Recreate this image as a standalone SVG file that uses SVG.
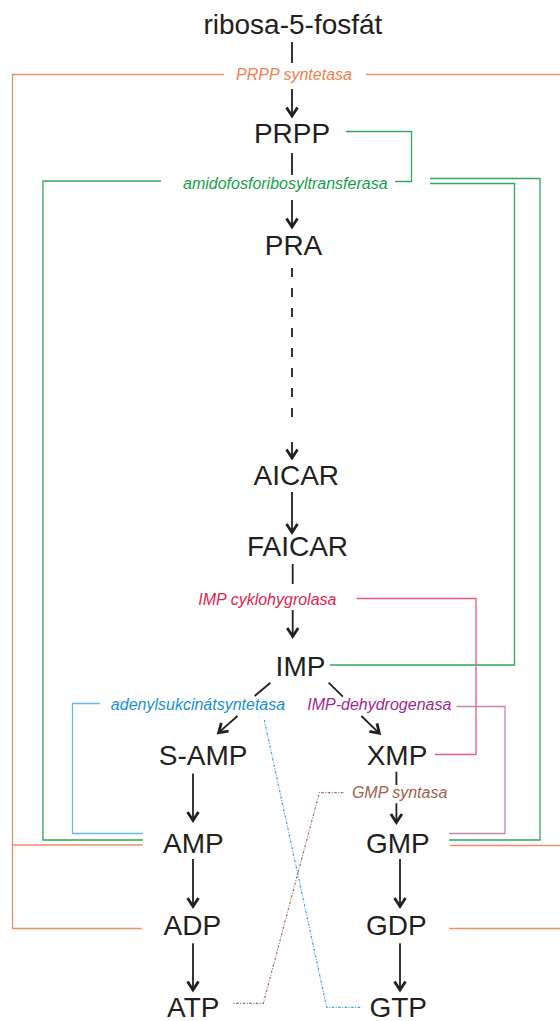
<svg xmlns="http://www.w3.org/2000/svg" width="560" height="1021" viewBox="0 0 560 1021">
  <style>
    .node { font-family: "Liberation Sans", Arial, sans-serif; font-size: 28px; fill: #231f20; text-anchor: middle; }
    .enz { font-family: "Liberation Sans", Arial, sans-serif; font-size: 16px; font-style: italic; text-anchor: middle; }
    .flow { fill: none; stroke: #231f20; stroke-width: 1.8; }
    .arrow { marker-end: url(#head); }
    .reg { fill: none; stroke-width: 1.3; }
    .orange { stroke: #f08c64; }
    .green { stroke: #2ea85e; }
    .red { stroke: #e65a7c; }
    .blue { stroke: #62bbe8; }
    .purple { stroke: #c288b6; }
    .blue-dot { fill: none; stroke: #3aa2e0; stroke-width: 1.2; stroke-dasharray: 2.5 1.5 1 1.5; }
    .brown-dot { fill: none; stroke: #a0705f; stroke-width: 1.2; stroke-dasharray: 2.5 1.5 1 1.5; }
  </style>
  <defs>
    <marker id="head" markerUnits="userSpaceOnUse" markerWidth="16" markerHeight="16" viewBox="-12 -8 16 16" refX="0" refY="0" orient="auto">
      <path d="M-8.5,-5.5 L0,0 L-8.5,5.5" fill="none" stroke="#231f20" stroke-width="2.8"/>
    </marker>
  </defs>

  <!-- regulation / feedback lines -->
  <g id="connectors">
    <!-- PRPP synthetase feedback -->
    <path class="reg orange" d="M224,74.5 H12.5 V928.5 H142"/>
    <path class="reg orange" d="M12.5,845 H142.5"/>
    <path class="reg orange" d="M366,74.5 H560"/>
    <path class="reg orange" d="M450,845.5 H560"/>
    <path class="reg orange" d="M449,928.5 H560"/>
    <!-- amidophosphoribosyltransferase -->
    <path class="reg green" d="M346,131.5 H411.5 V181.5 H395"/>
    <path class="reg green" d="M161,181 H43 V840 H143"/>
    <path class="reg green" d="M430,178.5 H540 V840 H449"/>
    <path class="reg green" d="M430,183.5 H514.5 V665 H330"/>
    <!-- IMP cyclohydrolase -->
    <path class="reg red" d="M356.5,598.5 H476 V754.5 H435"/>
    <!-- adenylosuccinate synthetase -->
    <path class="reg blue" d="M100,703.5 H72.5 V833.5 H143"/>
    <path class="blue-dot" d="M264.3,720 L326.7,1007.3 H360.7"/>
    <!-- IMP dehydrogenase -->
    <path class="reg purple" d="M456.5,706.5 H505 V833.5 H449"/>
    <!-- GMP synthetase -->
    <path class="brown-dot" d="M343.3,792.7 H319.3 L263.3,1003.3 H232"/>

    <!-- main pathway -->
    <path class="flow" d="M292,42 V63"/>
    <path class="flow arrow" d="M292,89 V116"/>
    <path class="flow" d="M292,153 V175"/>
    <path class="flow arrow" d="M292,200 V227"/>
    <path class="flow" d="M292,268 V422" stroke-dasharray="9 11" stroke-width="2.4"/>
    <path class="flow arrow" d="M292,442 V458"/>
    <path class="flow arrow" d="M292,492 V532.5"/>
    <path class="flow" d="M292.7,564 V584"/>
    <path class="flow arrow" d="M292.7,610 V636.5"/>
    <path class="flow" d="M270.4,682.7 L254.6,696"/>
    <path class="flow arrow" d="M237.5,716 L218.6,732.7"/>
    <path class="flow" d="M328.6,682.7 L342.9,696.7"/>
    <path class="flow arrow" d="M361.4,716 L379.3,733.3"/>
    <path class="flow arrow" d="M193,773.5 V820.5"/>
    <path class="flow" d="M396.4,771.7 V785"/>
    <path class="flow arrow" d="M396.4,803.3 V822.5"/>
    <path class="flow arrow" d="M193,859 V906.5"/>
    <path class="flow arrow" d="M400,859 V906.5"/>
    <path class="flow arrow" d="M193,943.3 V990"/>
    <path class="flow arrow" d="M400,943.3 V990"/>
  </g>

  <!-- metabolites -->
  <g id="ribose5p"><text class="node" x="292.9" y="34">ribosa-5-fosfát</text></g>
  <g id="prpp"><text class="node" x="292" y="143">PRPP</text></g>
  <g id="pra"><text class="node" x="293.5" y="255">PRA</text></g>
  <g id="aicar"><text class="node" x="296.3" y="485">AICAR</text></g>
  <g id="faicar"><text class="node" x="297.5" y="556">FAICAR</text></g>
  <g id="imp"><text class="node" x="300.5" y="676">IMP</text></g>
  <g id="samp"><text class="node" x="203.2" y="765">S-AMP</text></g>
  <g id="xmp"><text class="node" x="397" y="765">XMP</text></g>
  <g id="amp"><text class="node" x="193.3" y="853">AMP</text></g>
  <g id="gmp"><text class="node" x="397.8" y="853">GMP</text></g>
  <g id="adp"><text class="node" x="192.3" y="935">ADP</text></g>
  <g id="gdp"><text class="node" x="396.4" y="935">GDP</text></g>
  <g id="atp"><text class="node" x="193.3" y="1016.5">ATP</text></g>
  <g id="gtp"><text class="node" x="398.2" y="1016.5">GTP</text></g>

  <!-- enzymes -->
  <g id="prpp-synthetase"><text class="enz" x="294" y="79.5" fill="#f07f52">PRPP syntetasa</text></g>
  <g id="amidophosphoribosyltransferase"><text class="enz" x="285.3" y="189" fill="#17a04c">amidofosforibosyltransferasa</text></g>
  <g id="imp-cyclohydrolase"><text class="enz" x="267.4" y="605" fill="#e3244f">IMP cyklohygrolasa</text></g>
  <g id="adenylosuccinate-synthetase"><text class="enz" x="198" y="710" fill="#1a90d5">adenylsukcinátsyntetasa</text></g>
  <g id="imp-dehydrogenase"><text class="enz" x="379.3" y="710" fill="#a02a8c">IMP-dehydrogenasa</text></g>
  <g id="gmp-synthetase"><text class="enz" x="399.6" y="797.5" fill="#a0604d">GMP syntasa</text></g>
</svg>
